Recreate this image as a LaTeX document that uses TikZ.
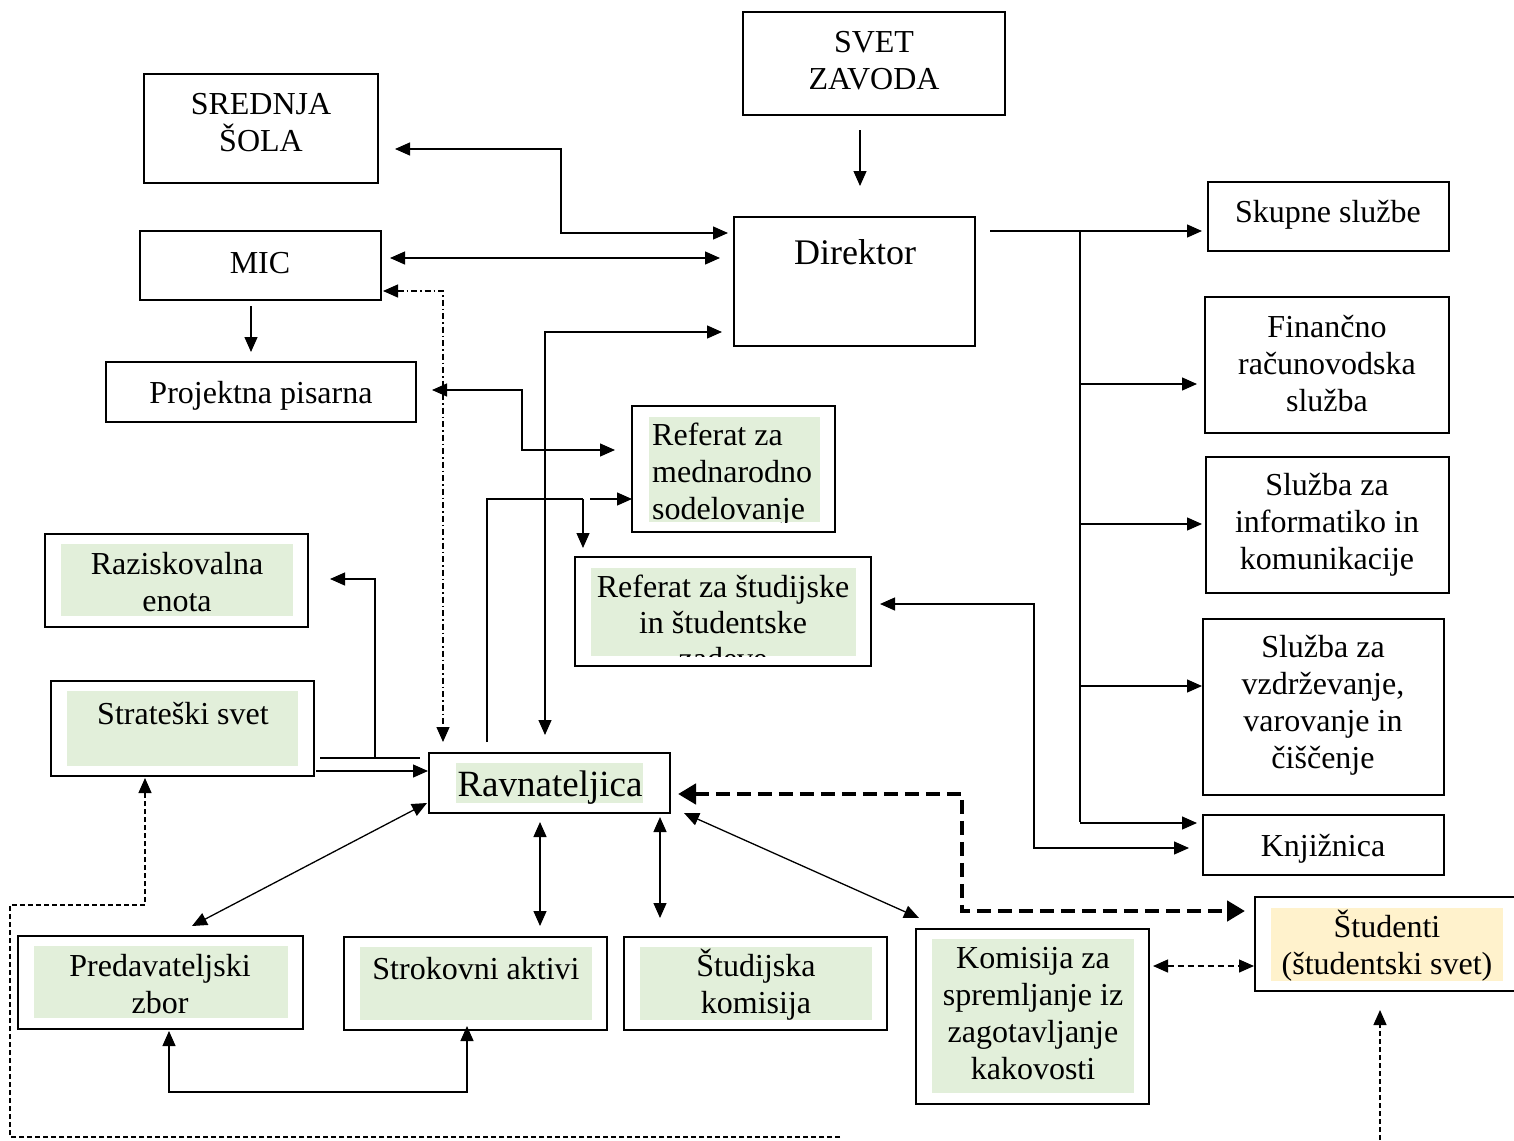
\documentclass[tikz,border=0pt]{standalone}
\usepackage{fontspec}
\setmainfont{Liberation Serif}
\usetikzlibrary{arrows.meta,fit}
\definecolor{lgreen}{HTML}{E2EFDA}
\definecolor{lbeige}{HTML}{FFF2CC}
\tikzset{
  box/.style={draw, line width=1.3pt, inner sep=0pt},
  bg/.style={fill=lgreen, inner sep=0pt},
  bgy/.style={fill=lbeige, inner sep=0pt},
  txt/.style={align=center, inner sep=0pt, font=\fontsize{32}{37}\selectfont},
  conn/.style={line width=1.3pt},
  arr/.style={conn, -{Triangle[length=15pt,width=13pt]}},
  biarr/.style={conn, {Triangle[length=15pt,width=13pt]}-{Triangle[length=15pt,width=13pt]}},
}
\begin{document}
\begin{tikzpicture}[x=1pt,y=-1pt]
\useasboundingbox (0,0) rectangle (1514,1140);
\fill[white] (0,0) rectangle (1514,1140);

% green / beige backgrounds
\node[bg, fit={(649,417) (820,522)}] (refm-bg) {};
\node[bg, fit={(591,568) (856,656)}] (refs-bg) {};
\node[bg, fit={(61,544) (293,616)}] (raz-bg) {};
\node[bg, fit={(67,691) (298,766)}] (str-bg) {};
\node[bg, fit={(456,763) (643,803)}] (rav-bg) {};
\node[bg, fit={(34,946) (288,1018)}] (pred-bg) {};
\node[bg, fit={(360,947) (592,1020)}] (strok-bg) {};
\node[bg, fit={(640,947) (872,1020)}] (stud-bg) {};
\node[bg, fit={(932,939) (1134,1093)}] (kom-bg) {};
\node[bgy, fit={(1271,908) (1503,981)}] (stu-bg) {};

% boxes
\node[box, fit={(144,74) (378,183)}] (srednja) {};
\node[box, fit={(743,12) (1005,115)}] (svet) {};
\node[box, fit={(140,231) (381,300)}] (mic) {};
\node[box, fit={(106,362) (416,422)}] (proj) {};
\node[box, fit={(734,217) (975,346)}] (dir) {};
\node[box, fit={(1208,182) (1449,251)}] (skup) {};
\node[box, fit={(1205,297) (1449,433)}] (fin) {};
\node[box, fit={(1206,457) (1449,593)}] (inf) {};
\node[box, fit={(1203,619) (1444,795)}] (vzd) {};
\node[box, fit={(1203,815) (1444,875)}] (knj) {};
\node[box, fit={(632,406) (835,532)}] (refm) {};
\node[box, fit={(575,557) (871,666)}] (refs) {};
\node[box, fit={(45,534) (308,627)}] (raz) {};
\node[box, fit={(51,681) (314,776)}] (str) {};
\node[box, fit={(429,753) (670,813)}] (rav) {};
\node[box, fit={(18,936) (303,1029)}] (pred) {};
\node[box, fit={(344,937) (607,1030)}] (strok) {};
\node[box, fit={(624,937) (887,1030)}] (stud) {};
\node[box, fit={(916,929) (1149,1104)}] (kom) {};
\node[box, fit={(1255,897) (1530,991)}] (stu) {};

% texts
\node[txt] (srednja-t) at (261,123) {SREDNJA\\ŠOLA};
\node[txt] (svet-t) at (874,61) {SVET\\ZAVODA};
\node[txt] (mic-t) at (260,263) {MIC};
\node[txt] (proj-t) at (261,396) {Projektna pisarna};
\node[txt, font=\fontsize{36}{40}\selectfont] (dir-t) at (855,252) {Direktor};
\node[txt] (skup-t) at (1328,215) {Skupne službe};
\node[txt] (fin-t) at (1327,364) {Finančno\\računovodska\\služba};
\node[txt] (inf-t) at (1327,525) {Služba za\\informatiko in\\komunikacije};
\node[txt] (vzd-t) at (1323,705) {Služba za\\vzdrževanje,\\varovanje in\\čiščenje};
\node[txt] (knj-t) at (1323,849) {Knjižnica};
\begin{scope}
  \clip (649,417) rectangle (820,522);
  \node[txt, align=left, anchor=west] (refm-t) at (652,475) {Referat za\\mednarodno\\sodelovanje};
\end{scope}
\begin{scope}
  \clip (591,568) rectangle (856,656);
  \node[txt, font=\fontsize{32}{36}\selectfont] (refs-t) at (723,622) {Referat za študijske\\in študentske\\zadeve};
\end{scope}
\node[txt] (raz-t) at (177,582) {Raziskovalna\\enota};
\node[txt] (str-t) at (183,714) {Strateški svet};
\node[txt, font=\fontsize{37}{40}\selectfont] (rav-t) at (550,788) {Ravnateljica};
\node[txt] (pred-t) at (160,984) {Predavateljski\\zbor};
\node[txt] (strok-t) at (476,969) {Strokovni aktivi};
\node[txt] (stud-t) at (756,985) {Študijska\\komisija};
\node[txt] (kom-t) at (1033,1014) {Komisija za\\spremljanje iz\\zagotavljanje\\kakovosti};
\node[txt] (stu-t) at (1387,946) {Študenti\\(študentski svet)};

% connectors top-left
\draw[biarr] (395,149) -- (561,149) -- (561,233) -- (728,233);
\draw[biarr] (390,258) -- (720,258);
\draw[conn, dash pattern=on 6pt off 3pt on 1.5pt off 3pt, {Triangle[length=15pt,width=13pt]}-{Triangle[length=15pt,width=13pt]}]
  (383,291) -- (443,291) -- (443,742);
\draw[arr] (251,306) -- (251,352);
\draw[arr] (860,130) -- (860,186);
\draw[biarr] (432,390) -- (522,390) -- (522,450) -- (615,450);
\draw[biarr] (722,332) -- (545,332) -- (545,735);
\draw[conn] (487,742) -- (487,499) -- (583,499);
\draw[arr] (590,499) -- (632,499);
\draw[arr] (583,499) -- (583,548);

% Strateski svet
\draw[conn] (320,758) -- (420,758);
\draw[arr] (375,758) -- (375,579) -- (330,579);
\draw[arr] (316,771) -- (428,771);
\draw[conn, dash pattern=on 5pt off 3pt, -{Triangle[length=15pt,width=13pt]}]
  (840,1137) -- (10,1137) -- (10,905) -- (145,905) -- (145,778);
\draw[conn, dash pattern=on 5pt off 3pt, -{Triangle[length=15pt,width=13pt]}]
  (1380,1140) -- (1380,1010);

% Ravnateljica to bottom
\draw[biarr] (427,803) -- (192,926);
\draw[biarr] (540,822) -- (540,926);
\draw[biarr] (660,817) -- (660,918);
\draw[biarr] (684,813) -- (919,918);
\draw[biarr] (169,1031) -- (169,1092) -- (467,1092) -- (467,1026);
\draw[line width=4.5pt, dash pattern=on 14pt off 7pt, {Triangle[length=18pt,width=20pt]}-{Triangle[length=18pt,width=20pt]}]
  (678,794) -- (962,794) -- (962,911) -- (1245,911);
\draw[conn, dash pattern=on 6pt off 4pt, {Triangle[length=15pt,width=13pt]}-{Triangle[length=15pt,width=13pt]}]
  (1153,966) -- (1254,966);

% Direktor to services
\draw[arr] (990,231) -- (1202,231);
\draw[conn] (1080,231) -- (1080,822);
\draw[arr] (1080,384) -- (1197,384);
\draw[arr] (1080,524) -- (1202,524);
\draw[arr] (1080,686) -- (1202,686);
\draw[arr] (1080,823) -- (1197,823);
\draw[biarr] (880,604) -- (1034,604) -- (1034,848) -- (1189,848);
\end{tikzpicture}
\end{document}
